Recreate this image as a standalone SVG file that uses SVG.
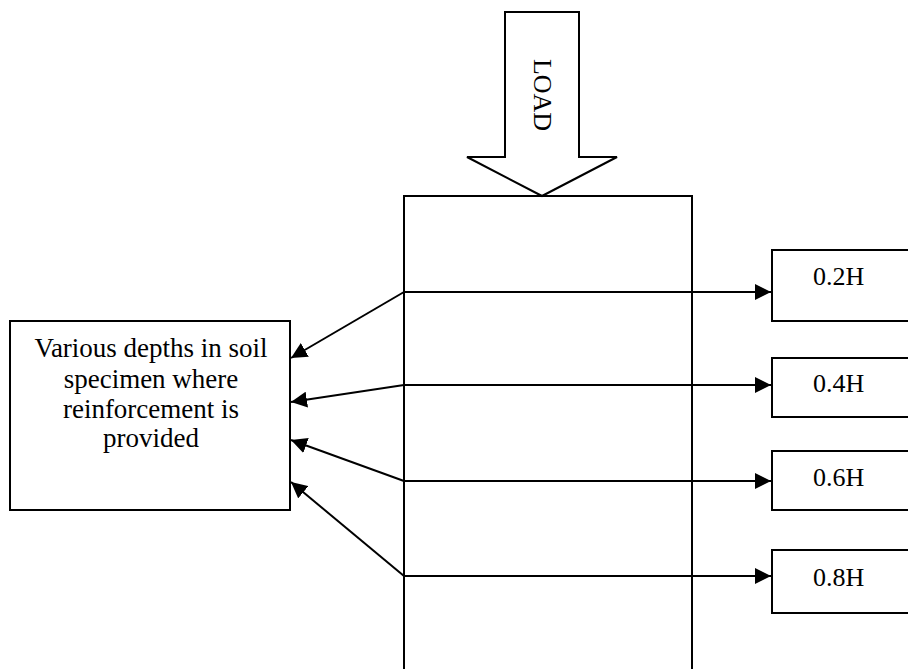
<svg xmlns="http://www.w3.org/2000/svg" width="908" height="669" viewBox="0 0 908 669">
<defs>
<marker id="ah" viewBox="0 0 10 10" refX="10" refY="5" markerWidth="16" markerHeight="16" markerUnits="userSpaceOnUse" orient="auto">
<path d="M0,0 L10,5 L0,10 z" fill="#000"/>
</marker>
</defs>
<style>
.box{fill:#fff;stroke:#000;stroke-width:2}
.ln{fill:none;stroke:#000;stroke-width:2}
.t{font-family:"Liberation Serif","Times New Roman",serif;font-size:26px;fill:#000}
.big{font-size:27px}
</style>
<rect width="908" height="669" fill="#fff"/>
<g id="load">
<path class="box" d="M505,12 L579,12 L579,157 L617,157 L542,196 L467,157 L505,157 Z"/>
<text class="t" transform="translate(542,95) rotate(90)" text-anchor="middle" dominant-baseline="central">LOAD</text>
</g>
<g id="specimen">
<path class="ln" d="M404,671 L404,196 L692,196 L692,671"/>
</g>
<g id="desc">
<rect class="box" x="10" y="321" width="280" height="189"/>
<text class="t big" text-anchor="middle"><tspan x="151" y="357">Various depths in soil</tspan><tspan x="151" y="388">specimen where</tspan><tspan x="151" y="418">reinforcement is</tspan><tspan x="151" y="447">provided</tspan></text>
</g>
<g id="h02">
<rect class="box" x="772" y="250" width="140" height="71"/>
<text class="t" x="813" y="285">0.2H</text>
</g>
<g id="h04">
<rect class="box" x="772" y="358" width="140" height="59"/>
<text class="t" x="813" y="392">0.4H</text>
</g>
<g id="h06">
<rect class="box" x="772" y="451" width="140" height="59"/>
<text class="t" x="813" y="486">0.6H</text>
</g>
<g id="h08">
<rect class="box" x="772" y="550" width="140" height="63"/>
<text class="t" x="813" y="586">0.8H</text>
</g>
<g id="connectors">
<line class="ln" x1="404" y1="292" x2="771" y2="292" marker-end="url(#ah)"/>
<line class="ln" x1="404" y1="385" x2="771" y2="385" marker-end="url(#ah)"/>
<line class="ln" x1="404" y1="481" x2="771" y2="481" marker-end="url(#ah)"/>
<line class="ln" x1="404" y1="576" x2="771" y2="576" marker-end="url(#ah)"/>
<line class="ln" x1="404" y1="292" x2="291" y2="358" marker-end="url(#ah)"/>
<line class="ln" x1="404" y1="385" x2="291" y2="402" marker-end="url(#ah)"/>
<line class="ln" x1="404" y1="481" x2="291" y2="440" marker-end="url(#ah)"/>
<line class="ln" x1="404" y1="576" x2="291" y2="482" marker-end="url(#ah)"/>
</g>
</svg>
